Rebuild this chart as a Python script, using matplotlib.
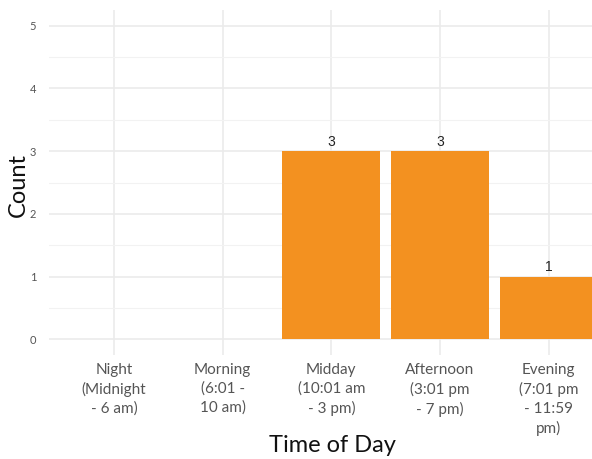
import matplotlib
matplotlib.use("Agg")
import matplotlib.pyplot as plt
import numpy as np

categories = ["Night\n(Midnight\n- 6 am)", "Morning\n(6:01 -\n10 am)",
              "Midday\n(10:01 am\n- 3 pm)", "Afternoon\n(3:01 pm\n- 7 pm)",
              "Evening\n(7:01 pm\n- 11:59\npm)"]
counts = [0, 0, 3, 3, 1]
y_ticks = [0, 1, 2, 3, 4, 5]

fig = plt.figure(figsize=(5.92, 4.59), dpi=100)
ax = fig.add_axes([48.7 / 592, 104 / 459, (614 - 48.7) / 592, (355 - 10) / 459])

x = np.arange(len(categories))
bar_color = "#F39120"
ax.bar(x, counts, width=0.9, color=bar_color, zorder=2)
for xi, c in zip(x, counts):
    if c > 0:
        ax.text(xi, c + 0.04, str(c), ha="center", va="bottom",
                fontsize=10, color="#222222", family="Liberation Sans", zorder=3)

ax.set_xlim(-0.6, len(categories) - 0.4)
ax.set_ylim(-0.25, 5.25)
ax.set_xticks(x)
ax.set_xticklabels(categories, family="Lato", fontsize=11, color="#555555",
                   linespacing=1.4)
ax.set_yticks(y_ticks)
ax.set_yticklabels([str(v) for v in y_ticks], family="Lato", fontsize=8, color="#555555")
ax.set_yticks(np.arange(0.5, 5, 1), minor=True)
ax.tick_params(axis="both", which="both", length=0)
ax.tick_params(axis="x", pad=6)
ax.tick_params(axis="y", pad=9)

ax.grid(True, which="major", color="#EBEBEB", linewidth=1.2, zorder=0)
ax.grid(True, which="minor", axis="y", color="#F2F2F2", linewidth=0.8, zorder=0)
ax.set_axisbelow(True)
for s in ax.spines.values():
    s.set_visible(False)

fig.text(18 / 592, 1 - 185 / 459, "Count", family="Lato", fontsize=17,
         color="#111111", ha="center", va="center", rotation=90)
fig.text(332 / 592, 1 - 446 / 459, "Time of Day", family="Lato", fontsize=17,
         color="#111111", ha="center", va="center")

fig.savefig("out.png", dpi=100)
